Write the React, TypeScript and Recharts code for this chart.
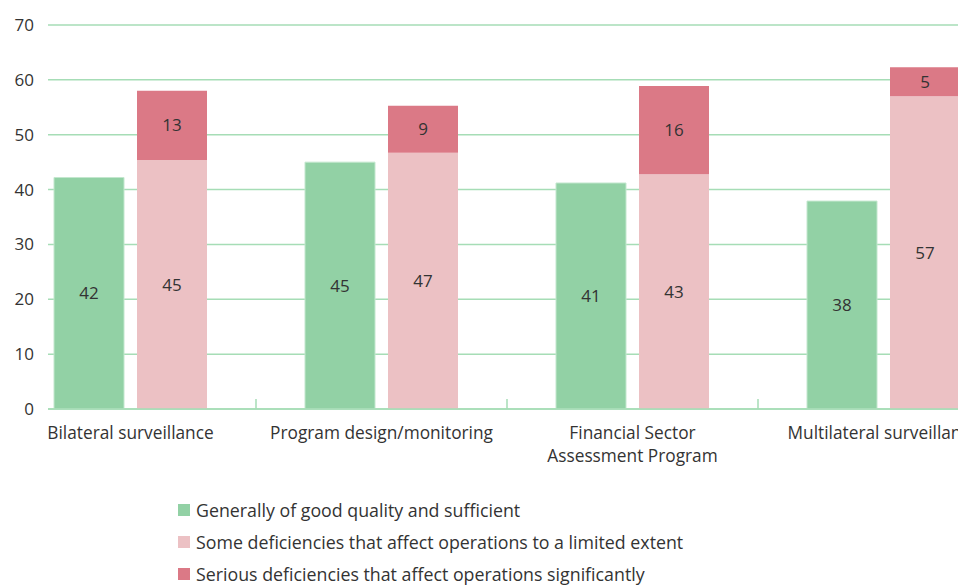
import React from 'react';
import { BarChart, Bar, XAxis, YAxis, CartesianGrid, Legend, LabelList } from 'recharts';

const categories = [
  'Bilateral surveillance',
  'Program design/monitoring',
  'Financial Sector\nAssessment Program',
  'Multilateral surveillance',
];
const goodQuality = [42.2, 45.0, 41.2, 37.9];
const limitedDeficiencies = [45.4, 46.7, 42.8, 57.0];
const seriousDeficiencies = [12.6, 8.6, 16.1, 5.3];
const yTicks = [0, 10, 20, 30, 40, 50, 60, 70];
const seriesNames = [
  'Generally of good quality and sufficient',
  'Some deficiencies that affect operations to a limited extent',
  'Serious deficiencies that affect operations significantly',
];

const GREEN = '#92D1A5';
const PINK = '#ECC1C4';
const RED = '#DB7986';
const GRID = '#A6DDB6';
const TEXT = '#333333';
const FONT = '"Open Sans", sans-serif';
const seriesColors = [GREEN, PINK, RED];

const data = categories.map((category, i) => ({
  category,
  good: goodQuality[i],
  limited: limitedDeficiencies[i],
  serious: seriousDeficiencies[i],
}));

const TICK_MARGIN = 18;

const CategoryTick = (props: any) => {
  const { x, y, payload, index } = props;
  const lines = String(payload.value).split('\n');
  const axisY = y - TICK_MARGIN;
  const half = payload.offset;
  return (
    <g>
      {index > 0 && typeof half === 'number' && (
        <line x1={x - half} x2={x - half} y1={axisY} y2={axisY - 10} stroke={GRID} strokeWidth={1.5} />
      )}
      <text x={x} y={y} textAnchor="middle" fill={TEXT} fontSize={17.3} fontFamily={FONT}>
        {lines.map((l, i) => (
          <tspan key={i} x={x} dy={i === 0 ? '0.71em' : 23}>
            {l}
          </tspan>
        ))}
      </text>
    </g>
  );
};

const renderLegend = () => (
  <div style={{ fontFamily: FONT, fontSize: 17.8, color: TEXT }}>
    {seriesNames.map((name, i) => (
      <div key={name} style={{ display: 'flex', alignItems: 'center', height: 32 }}>
        <span style={{ width: 12, height: 12, background: seriesColors[i], marginRight: 6, display: 'inline-block' }} />
        <span>{name}</span>
      </div>
    ))}
  </div>
);

const fmt = (v: any) => Math.round(Number(v));

export default function App() {
  return (
    <div style={{ position: 'fixed', left: 0, top: 0, width: 958, height: 585, overflow: 'hidden', background: '#fff' }}>
      <BarChart
        width={1009}
        height={585}
        data={data}
        margin={{ top: 25, right: 0, bottom: 0, left: 0 }}
        barCategoryGap={49}
        barGap={13}
      >
        <CartesianGrid horizontal vertical={false} stroke={GRID} strokeWidth={1.5} />
        <XAxis
          dataKey="category"
          interval={0}
          height={80}
          padding={{ left: -43, right: 0 }}
          axisLine={{ stroke: GRID, strokeWidth: 1.5 }}
          tickLine={false}
          tickSize={0}
          tickMargin={TICK_MARGIN}
          tick={<CategoryTick />}
        />
        <YAxis
          width={48}
          domain={[0, 70]}
          ticks={yTicks}
          axisLine={false}
          tickLine={false}
          tickSize={0}
          tickMargin={14}
          tick={{ fill: TEXT, fontSize: 17, fontFamily: FONT }}
        />
        <Legend
          content={renderLegend}
          wrapperStyle={{ position: 'absolute', left: 178, top: 494, width: 700 }}
        />
        <Bar dataKey="good" name={seriesNames[0]} stackId="good" fill={GREEN} stroke="#C3E7CE" strokeWidth={1} isAnimationActive={false}>
          <LabelList dataKey="good" position="center" formatter={fmt} fill={TEXT} fontSize={17} fontFamily={FONT} />
        </Bar>
        <Bar dataKey="limited" name={seriesNames[1]} stackId="def" fill={PINK} isAnimationActive={false}>
          <LabelList dataKey="limited" position="center" formatter={fmt} fill={TEXT} fontSize={17} fontFamily={FONT} />
        </Bar>
        <Bar dataKey="serious" name={seriesNames[2]} stackId="def" fill={RED} isAnimationActive={false}>
          <LabelList dataKey="serious" position="center" formatter={fmt} fill={TEXT} fontSize={17} fontFamily={FONT} />
        </Bar>
      </BarChart>
    </div>
  );
}
